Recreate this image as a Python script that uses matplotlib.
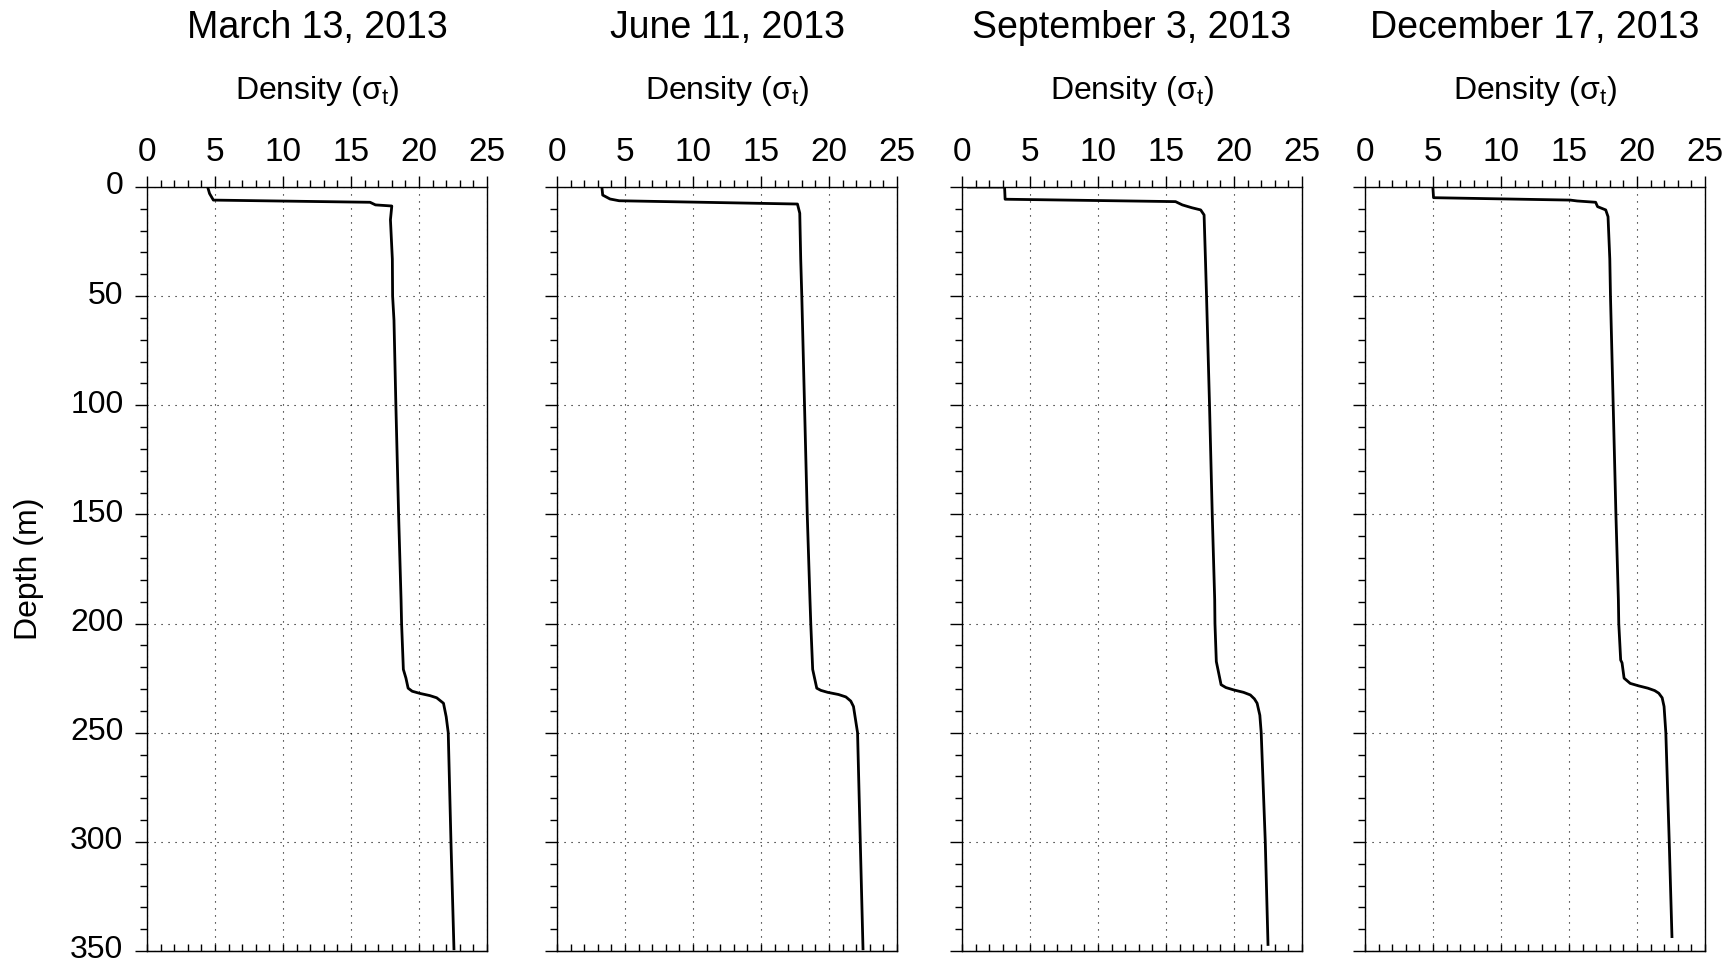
import matplotlib
matplotlib.use("Agg")
import matplotlib.pyplot as plt
import matplotlib.transforms as mtransforms
from matplotlib.ticker import MultipleLocator

plt.rcParams['font.family'] = ['Liberation Sans', 'DejaVu Sans']
plt.rcParams['mathtext.fontset'] = 'custom'
plt.rcParams['mathtext.rm'] = 'Liberation Sans'

# dates of the profiles
daty = ["March 13, 2013", "June 11, 2013", "September 3, 2013", "December 17, 2013"]

# profil 1 - marzec
glebokosc_1 = [0, 3, 6, 7, 8.2, 8.7, 15, 33, 50, 61, 100, 150, 189, 200, 221, 225,
               229.6, 231, 232, 233, 234, 236.5, 242.7, 250, 300, 349]
gestosc_1 = [4.46, 4.6, 4.88, 16.4, 16.8, 18.0, 17.9, 18.04, 18.06, 18.16, 18.3, 18.5,
             18.68, 18.72, 18.85, 19.04, 19.2, 19.5, 20.07, 20.8, 21.3, 21.8, 22.0, 22.15,
             22.35, 22.57]

# profil 2 - czerwiec
glebokosc_2 = [0, 3.7, 5.5, 6.3, 7.8, 12, 33, 50, 100, 150, 189, 200, 221, 229.6,
               230.6, 231.5, 232.5, 233.6, 235.5, 238, 250, 300, 349]
gestosc_2 = [3.3, 3.36, 3.9, 4.57, 17.68, 17.85, 17.92, 18.0, 18.2, 18.4, 18.6, 18.66,
             18.8, 19.1, 19.4, 19.9, 20.7, 21.24, 21.6, 21.8, 22.1, 22.3, 22.5]

# profil 3 - wrzesien
glebokosc_3 = [0, 0, 5.6, 6.7, 8.2, 9.5, 10.5, 12.8, 33, 50, 100, 150, 189, 200, 217.4,
               228, 229.3, 230.4, 231.5, 232.7, 234.5, 236.5, 242, 250, 300, 347]
gestosc_3 = [0.47, 3.13, 3.17, 15.7, 16.2, 16.9, 17.55, 17.8, 17.9, 17.98, 18.2, 18.4,
             18.58, 18.6, 18.7, 19.05, 19.4, 19.98, 20.7, 21.2, 21.5, 21.7, 21.9, 22.0,
             22.3, 22.5]

# profil 4 - grudzien
glebokosc_4 = [0, 4.9, 6, 6.4, 7, 9, 10.5, 13.6, 33, 50, 100, 150, 189, 200, 216.7, 218,
               225, 227.4, 228.5, 229.6, 230.7, 231.9, 234, 238, 250, 300, 343.4]
gestosc_4 = [4.99, 5.04, 15.1, 15.6, 16.96, 17.1, 17.7, 17.87, 18.0, 18.05, 18.25, 18.45,
             18.63, 18.66, 18.8, 18.9, 19.05, 19.5, 20.1, 20.8, 21.3, 21.6, 21.85, 21.99,
             22.12, 22.37, 22.57]

glebokosci = [glebokosc_1, glebokosc_2, glebokosc_3, glebokosc_4]
gestosci = [gestosc_1, gestosc_2, gestosc_3, gestosc_4]

fig = plt.figure(figsize=(17.29, 9.66), dpi=100)

# polozenia paneli (lewa krawedz w ulamkach figury)
lewe = [147 / 1729, 557 / 1729, 962 / 1729, 1365 / 1729]
szer = 340 / 1729
dol = 1 - 951 / 966
wys = 764 / 966

for i in range(4):
    ax = fig.add_axes([lewe[i], dol, szer, wys])
    ax.plot(gestosci[i], glebokosci[i], 'k-', lw=2)
    ax.set_xlim(0, 25)
    ax.set_ylim(350, 0)

    # os x na gorze, ticki na zewnatrz
    ax.xaxis.set_major_locator(MultipleLocator(5))
    ax.xaxis.set_minor_locator(MultipleLocator(1))
    ax.tick_params(axis='x', which='both', top=True, bottom=False,
                   labeltop=True, labelbottom=False, direction='out')
    ax.tick_params(axis='x', which='major', length=8, width=1, labelsize=24, pad=6)
    ax.tick_params(axis='x', which='minor', length=5, width=1)

    # dolne ticki do srodka
    dolna = ax.secondary_xaxis('bottom')
    dolna.xaxis.set_major_locator(MultipleLocator(5))
    dolna.xaxis.set_minor_locator(MultipleLocator(1))
    dolna.tick_params(axis='x', which='both', direction='in', length=5, width=1,
                      labelbottom=False)

    # os y
    ax.set_yticks([0, 50, 100, 150, 200, 250, 300, 350])
    ax.yaxis.set_minor_locator(MultipleLocator(10))
    ax.tick_params(axis='y', which='both', left=True, right=False, direction='out')
    ax.tick_params(axis='y', which='major', length=9, width=1, labelsize=23, pad=8)
    ax.tick_params(axis='y', which='minor', length=5, width=1)
    if i == 0:
        ax.set_ylabel("Depth (m)", fontsize=23, labelpad=19)
        # lekko w gore, zeby 350 nie wychodzilo poza krawedz
        przesun = mtransforms.ScaledTranslation(0, 4 / 100, fig.dpi_scale_trans)
        for lab in ax.get_yticklabels():
            lab.set_transform(lab.get_transform() + przesun)
    else:
        ax.tick_params(axis='y', which='both', labelleft=False)

    ax.grid(True, which='major', color='k', linestyle=(0, (1, 5.3)), lw=0.8)

    for sp in ax.spines.values():
        sp.set_linewidth(1.0)

    ax.text(0.5, 1 + 96 / 764, r"Density ($\mathregular{\sigma_t}$)", transform=ax.transAxes,
            ha='center', va='center', fontsize=23)
    ax.text(0.5, 1 + 159 / 764, daty[i], transform=ax.transAxes,
            ha='center', va='center', fontsize=27)

fig.savefig("out.png", dpi=100)
